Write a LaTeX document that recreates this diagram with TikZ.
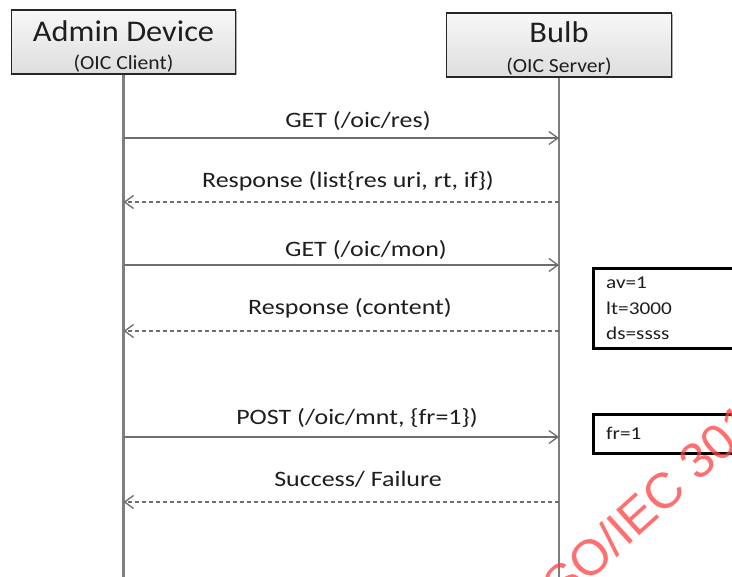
\documentclass[tikz,border=0pt]{standalone}
\usepackage{fontspec}
\setmainfont{Carlito}
\newfontfamily\hdrfont[FakeStretch=1.08]{Carlito}
\newfontfamily\lblfont[FakeStretch=1.18]{Carlito}
\newfontfamily\wmfont{Liberation Sans}
\usetikzlibrary{arrows.meta,shadows}
\definecolor{txt}{HTML}{1E1E1E}
\definecolor{life}{HTML}{7F7F7F}
\definecolor{msgc}{HTML}{6E6E6E}
\definecolor{wmc}{HTML}{FF4040}
\begin{document}
\begin{tikzpicture}[x=1pt,y=-1pt,
  hdrbox/.style={draw=black!85, line width=1.2pt, top color=gray!6, bottom color=gray!26,
    minimum width=224pt, minimum height=64pt, inner sep=0pt,
    drop shadow={shadow xshift=1.5pt, shadow yshift=-1.5pt, fill=black!55, opacity=0.6}},
  hdrtxt/.style={font=\hdrfont\fontsize{30}{34}\selectfont, text=txt, anchor=base, inner sep=0pt},
  subtxt/.style={font=\hdrfont\fontsize{20}{24}\selectfont, text=txt, anchor=base, inner sep=0pt},
  lifeline/.style={draw=life, line width=2.5pt},
  msgline/.style={draw=msgc, line width=1.4pt, -{Straight Barb[length=9pt,width=13pt,line width=1.3pt]}},
  replyline/.style={msgline, dash pattern=on 4pt off 3pt},
  lbl/.style={font=\lblfont\fontsize{22}{26}\selectfont, text=txt, anchor=base, inner sep=0pt},
  notebox/.style={draw=black, line width=3pt, fill=white, anchor=north west, minimum width=170pt, inner sep=0pt},
  notetxt/.style={font=\lblfont\fontsize{18}{22}\selectfont, text=txt, anchor=base west, inner sep=0pt},
  wmark/.style={font=\wmfont\fontsize{50}{54}\selectfont, text=wmc, text opacity=0.75, anchor=base west, inner sep=0pt}
]
\useasboundingbox (0,0) rectangle (732,577);
\fill[white] (0,0) rectangle (732,577);

% header boxes
\node[hdrbox] (admin) at (123.5,42) {};
\node[hdrbox, minimum width=225pt] (bulb) at (559,45) {};
\node[hdrtxt] (admint) at (123.5,42) {Admin Device};
\node[subtxt] (admins) at (123.5,70) {(OIC Client)};
\node[hdrtxt] (bulbt) at (559,43) {Bulb};
\node[subtxt] (bulbs) at (559,73) {(OIC Server)};

% lifelines
\coordinate (aend) at (123.5,580);
\coordinate (bend) at (559,580);
\draw[lifeline] (admin.south) -- (aend);
\draw[lifeline] (bulb.south) -- (bend);

% message end points
\coordinate (a1) at (123.5,138); \coordinate (b1) at (559,138);
\coordinate (a2) at (123.5,202); \coordinate (b2) at (559,202);
\coordinate (a3) at (123.5,265); \coordinate (b3) at (559,265);
\coordinate (a4) at (123.5,331); \coordinate (b4) at (559,331);
\coordinate (a5) at (123.5,437); \coordinate (b5) at (559,437);
\coordinate (a6) at (123.5,502); \coordinate (b6) at (559,502);

\draw[msgline] (a1) -- (b1);
\draw[replyline] (b2) -- (a2);
\draw[msgline] (a3) -- (b3);
\draw[replyline] (b4) -- (a4);
\draw[msgline] (a5) -- (b5);
\draw[replyline] (b6) -- (a6);

% labels
\node[lbl] (l1) at (358,128) {GET (/oic/res)};
\node[lbl] (l2) at (348,188) {Response (list\{res uri, rt, if\})};
\node[lbl] (l3) at (366,257) {GET (/oic/mon)};
\node[lbl] (l4) at (350,315) {Response (content)};
\node[lbl] (l5) at (357,425) {POST (/oic/mnt, \{fr=1\})};
\node[lbl] (l6) at (358,487) {Success/ Failure};

% notes
\node[notebox, minimum height=80pt] (n1) at (592,267) {};
\node[notetxt] (n1a) at (606,289) {av=1};
\node[notetxt] (n1b) at (606,315) {lt=3000};
\node[notetxt] (n1c) at (606,340) {ds=ssss};
\node[notebox, minimum height=39pt] (n2) at (592,413) {};
\node[notetxt] (n2a) at (606,440) {fr=1};

% watermark
\begin{scope}
\clip (0,0) rectangle (732,577);
\node[wmark, rotate=42] (wm) at (552,615) {ISO/IEC 30141};
\end{scope}
\end{tikzpicture}
\end{document}
